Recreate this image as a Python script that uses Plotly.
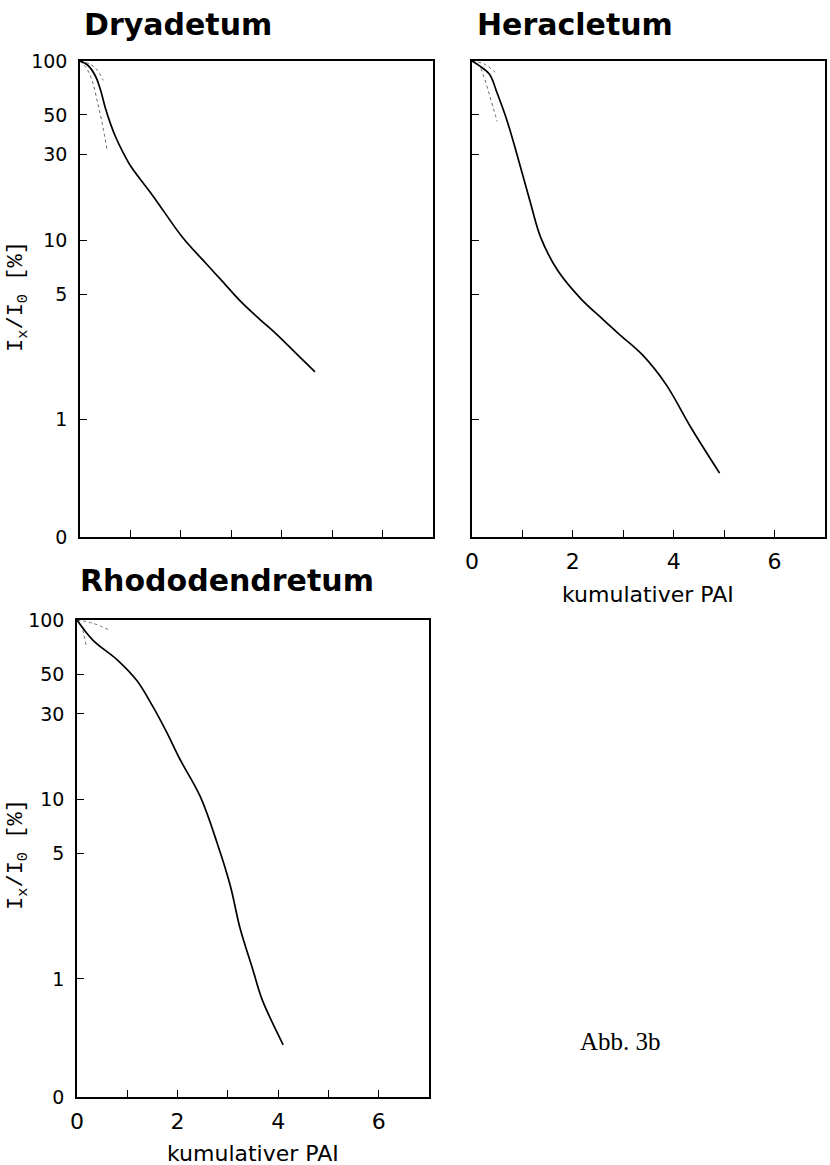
import math
import plotly.graph_objects as go

W, H = 830, 1165

# ---------------- data ----------------
Y_ZERO = 0.22  # bottom of the log axis, labelled "0"

dry_x = [0, 0.15, 0.3, 0.4, 0.5, 0.6, 0.7, 0.85, 1.0, 1.45, 2.04, 2.5, 2.82, 3.2, 3.57, 3.91, 4.3, 4.66]
dry_y = [100, 95, 83, 70, 55, 45, 38, 31, 26, 17.6, 10.3, 7.4, 5.9, 4.5, 3.6, 2.96, 2.31, 1.84]
dry_dotA_x = [0, 0.2, 0.34, 0.46]
dry_dotA_y = [100, 96, 89, 78]
dry_dotB_x = [0, 0.12, 0.24, 0.34, 0.44, 0.54]
dry_dotB_y = [100, 92, 78, 60, 45, 31.6]

her_x = [0, 0.15, 0.35, 0.5, 0.7, 0.9, 1.16, 1.36, 1.7, 2.16, 2.6, 2.95, 3.39, 3.85, 4.35, 4.91]
her_y = [100, 94, 84, 66, 46, 29.5, 16.1, 10.4, 6.76, 4.7, 3.6, 2.93, 2.27, 1.56, 0.89, 0.50]
her_dotA_x = [0, 0.25, 0.46]
her_dotA_y = [100, 96, 86.5]
her_dotB_x = [0, 0.14, 0.24, 0.34, 0.44, 0.5]
her_dotB_y = [100, 94, 81, 65.6, 52.5, 46]

rho_x = [0, 0.32, 0.8, 1.19, 1.51, 1.79, 2.05, 2.45, 2.78, 3.05, 3.24, 3.5, 3.68, 4.1]
rho_y = [100, 77, 60, 46, 32.9, 23.5, 16.7, 10.4, 5.8, 3.3, 1.93, 1.12, 0.77, 0.43]
rho_dotA_x = [0, 0.31, 0.68]
rho_dotA_y = [100, 96, 87]
rho_dotB_x = [0, 0.08, 0.18]
rho_dotB_y = [100, 94, 72.6]

y_tickvals = [Y_ZERO, 1, 5, 10, 30, 50, 100]
y_ticktext = ["0", "1", "5", "10", "30", "50", "100"]
x_tickvals = [0, 2, 4, 6]
x_ticktext = ["0", "2", "4", "6"]
x_minor_ticks = [1, 3, 5]

titles = ["Dryadetum", "Heracletum", "Rhododendretum"]
x_title = "kumulativer PAI"
y_title = "I<sub>x</sub>/I<sub>0</sub> [%]"
fig_label = "Abb. 3b"

# ---------------- layout helpers (pixels -> paper) ----------------
def px_x(p):
    return p / W

def px_y(p):
    return 1 - p / H

# panel boxes in pixels: (left, right, top, bottom)
boxes = [(80, 433, 61, 537), (472, 825, 61, 537), (77, 429, 620, 1097)]

fig = go.Figure()

series = [
    (dry_x, dry_y, [(dry_dotA_x, dry_dotA_y), (dry_dotB_x, dry_dotB_y)]),
    (her_x, her_y, [(her_dotA_x, her_dotA_y), (her_dotB_x, her_dotB_y)]),
    (rho_x, rho_y, [(rho_dotA_x, rho_dotA_y), (rho_dotB_x, rho_dotB_y)]),
]

for i, (sx, sy, dots) in enumerate(series):
    ax = "" if i == 0 else str(i + 1)
    for dx, dy in dots:
        fig.add_trace(go.Scatter(x=dx, y=dy, mode="lines", xaxis="x" + ax, yaxis="y" + ax,
                                 line=dict(color="#666", width=1, dash="dot"),
                                 line_shape="spline", showlegend=False))
    fig.add_trace(go.Scatter(x=sx, y=sy, mode="lines", xaxis="x" + ax, yaxis="y" + ax,
                             line=dict(color="black", width=1.7), line_shape="spline",
                             showlegend=False))

tick_font_y = dict(family="DejaVu Sans", size=19, color="black")
tick_font_x = dict(family="DejaVu Sans", size=22, color="black")

layout = dict(width=W, height=H, margin=dict(l=0, r=0, t=0, b=0, autoexpand=False),
              paper_bgcolor="white", plot_bgcolor="white", showlegend=False)

show_x_labels = [False, True, True]
show_y_labels = [True, False, True]

for i, (l, r, t, b) in enumerate(boxes):
    ax = "" if i == 0 else str(i + 1)
    layout["xaxis" + ax] = dict(
        domain=[px_x(l), px_x(r)], range=[0, 7], anchor="y" + ax, automargin=False,
        showline=True, linecolor="black", linewidth=1.6, mirror=True,
        ticks="inside", ticklen=7, tickwidth=1.4, tickcolor="black",
        tickvals=x_tickvals, ticktext=x_ticktext,
        minor=dict(tickvals=x_minor_ticks, ticks="inside", ticklen=7, tickwidth=1.4,
                   tickcolor="black", showgrid=False),
        showticklabels=show_x_labels[i], tickfont=tick_font_x, ticklabelstandoff=4,
        showgrid=False, zeroline=False)
    layout["yaxis" + ax] = dict(
        domain=[px_y(b), px_y(t)], type="log", range=[math.log10(Y_ZERO), 2], anchor="x" + ax,
        automargin=False,
        showline=True, linecolor="black", linewidth=1.6, mirror=True,
        ticks="inside", ticklen=7, tickwidth=1.4, tickcolor="black",
        tickvals=y_tickvals, ticktext=y_ticktext,
        showticklabels=show_y_labels[i], tickfont=tick_font_y, ticklabelstandoff=7,
        showgrid=False, zeroline=False)

fig.update_layout(**layout)

annotations = []
title_pos = [(82, 25), (475, 25), (78, 580)]
for txt, (x, y) in zip(titles, title_pos):
    annotations.append(dict(text=txt, x=px_x(x), y=px_y(y), xref="paper", yref="paper",
                            xanchor="left", yanchor="middle", showarrow=False,
                            font=dict(family="DejaVu Sans", size=30, color="black", weight="bold")))

for (x, y) in [(648, 594), (253, 1153)]:
    annotations.append(dict(text=x_title, x=px_x(x), y=px_y(y), xref="paper", yref="paper",
                            xanchor="center", yanchor="middle", showarrow=False,
                            font=dict(family="DejaVu Sans", size=22, color="black")))

for (x, y) in [(18, 297), (18, 855)]:
    annotations.append(dict(text=y_title, x=px_x(x), y=px_y(y), xref="paper", yref="paper",
                            xanchor="center", yanchor="middle", showarrow=False, textangle=-90,
                            font=dict(family="Liberation Mono", size=22, color="black")))

annotations.append(dict(text=fig_label, x=px_x(578), y=px_y(1041), xref="paper", yref="paper",
                        xanchor="left", yanchor="middle", showarrow=False,
                        font=dict(family="Liberation Serif", size=25, color="black")))

fig.update_layout(annotations=annotations)
fig.write_html("out.html")
